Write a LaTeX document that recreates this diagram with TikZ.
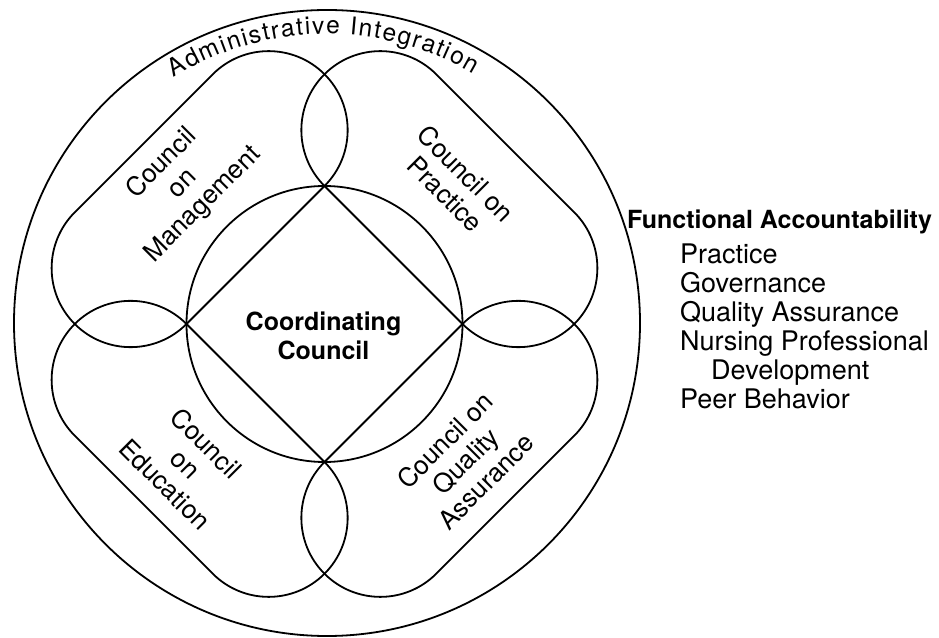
\documentclass[tikz,border=0pt]{standalone}
\usepackage{fontspec}
\setmainfont{TeX Gyre Heros}
\usetikzlibrary{decorations.text}
\newcommand\adminfont{\fontsize{24.5}{28}\selectfont}
\tikzset{
  ln/.style={line width=1.8pt, line join=round},
  lbl/.style={font=\fontsize{26}{29}\selectfont, align=center, inner sep=0pt},
  boldtxt/.style={font=\fontsize{25}{29}\selectfont\bfseries, inner sep=0pt},
  listtxt/.style={font=\fontsize{27}{29}\selectfont, inner sep=0pt, anchor=base west},
  stadium/.style={ln}
}
\newcommand\councilshape[2]{%
  \draw[stadium, shift={#1}, rotate=#2]
    (-97.6,0) -- (97.6,0) arc[start angle=-90, end angle=90, radius=79]
    -- (-97.6,158) arc[start angle=90, end angle=270, radius=79] -- cycle;}
\begin{document}
\begin{tikzpicture}[x=1pt,y=1pt]
\useasboundingbox (0,0) rectangle (939,637);
\coordinate (C) at (324.5,313);
\coordinate (O) at (327,314);
% outer circle
\draw[ln] (O) circle[radius=313];
% inner circle
\draw[ln] (C) circle[radius=138];
% four council shapes (inner edges form the diamond)
\councilshape{(255.5,382)}{45}
\councilshape{(393.5,382)}{-45}
\councilshape{(393.5,244)}{-135}
\councilshape{(255.5,244)}{135}
% administrative integration text
\path[decorate, decoration={text along path,
      text={|\adminfont|Administrative Integration},
      text align={fit to path}}]
  (O) ++(122:289) arc[start angle=122, end angle=59.5, radius=289];
% labels
\node[lbl, rotate=45]  (mgmt) at (182.5,453)   {Council\\on\\Management};
\node[lbl, rotate=-45] (prac) at (455.7,453.3) {Council on\\Practice};
\node[lbl, rotate=-45] (edu)  at (185.8,173.3) {Council\\on\\Education};
\node[lbl, rotate=45]  (qa)   at (465.3,176.2) {Council on\\Quality\\Assurance};
\node[boldtxt, anchor=base] (coordA) at (323.5,306) {Coordinating};
\node[boldtxt, anchor=base] (coordB) at (323.5,277) {Council};
% functional accountability list
\node[boldtxt, anchor=base west] (fa) at (627,408) {Functional Accountability};
\node[listtxt] (l1) at (680,373) {Practice};
\node[listtxt] (l2) at (680,344) {Governance};
\node[listtxt] (l3) at (680,315) {Quality Assurance};
\node[listtxt] (l4) at (680,286) {Nursing Professional};
\node[listtxt] (l5) at (711,257) {Development};
\node[listtxt] (l6) at (680,228) {Peer Behavior};
\end{tikzpicture}
\end{document}
